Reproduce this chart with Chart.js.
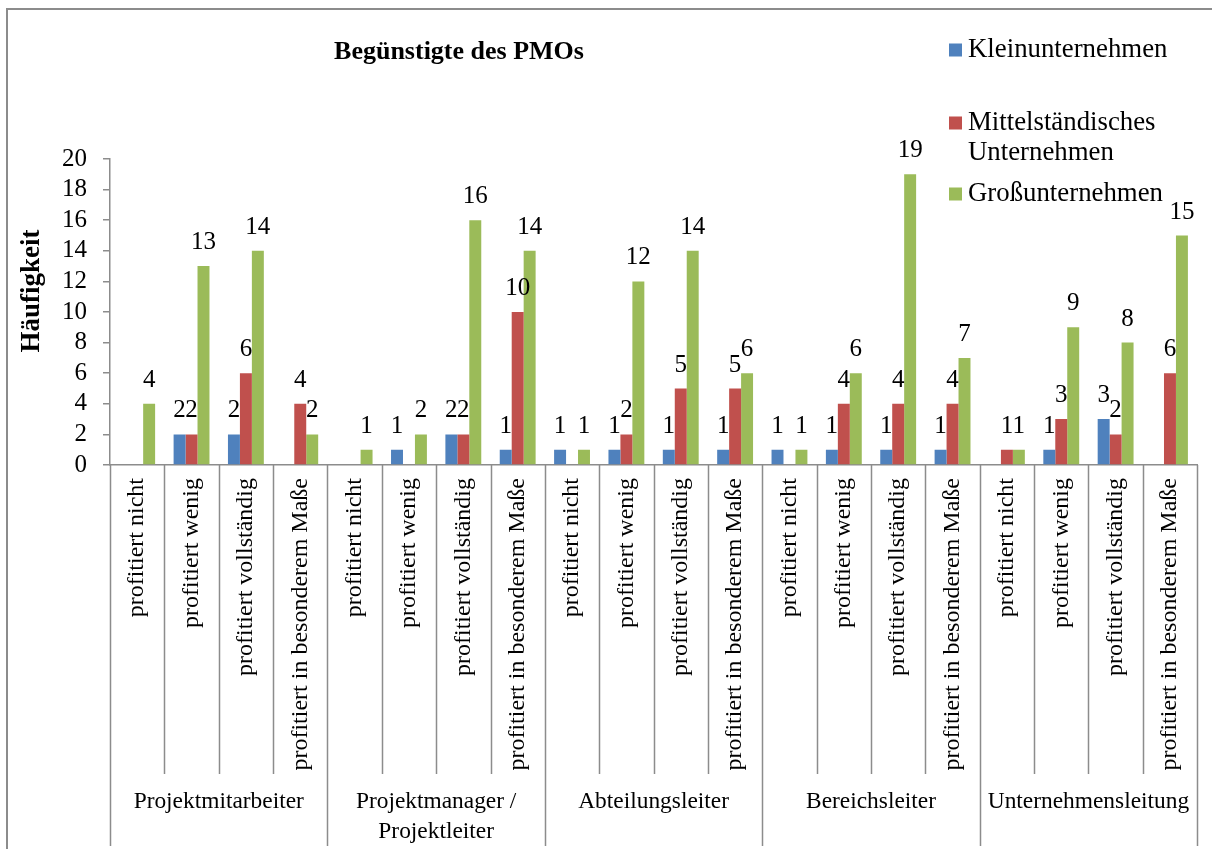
<!DOCTYPE html>
<html>
<head>
<meta charset="utf-8">
<script src="https://cdn.jsdelivr.net/npm/chart.js@4.4.1/dist/chart.umd.min.js"></script>
<style>
  html, body { margin: 0; padding: 0; background: #fff; overflow: hidden; }
  #frame { position: absolute; left: 6px; top: 8px; width: 1300px; height: 1000px;
           border-left: 2px solid #8c8c8c; border-top: 2px solid #8c8c8c; box-sizing: border-box; }
  #c { position: absolute; left: 0; top: 0; }
</style>
</head>
<body>
<div id="frame"></div>
<canvas id="c" width="1212" height="849"></canvas>
<script>
const chartTitle = "Begünstigte des PMOs";
const yAxisTitle = "Häufigkeit";
const subCategories = ["profitiert nicht", "profitiert wenig", "profitiert vollständig", "profitiert in besonderem Maße"];
const groups = [["Projektmitarbeiter"], ["Projektmanager /", "Projektleiter"], ["Abteilungsleiter"], ["Bereichsleiter"], ["Unternehmensleitung"]];
const seriesNames = ["Kleinunternehmen", "Mittelständisches Unternehmen", "Großunternehmen"];
const legendLines = [["Kleinunternehmen"], ["Mittelständisches", "Unternehmen"], ["Großunternehmen"]];
const kleinValues  = [null, 2, 2, null,  null, 1, 2, 1,   1, 1, 1, 1,   1, 1, 1, 1,   null, 1, 3, null];
const mittelValues = [null, 2, 6, 4,     null, null, 2, 10, null, 2, 5, 5, null, 4, 4, 4, 1, 3, 2, 6];
const grossValues  = [4, 13, 14, 2,      1, 2, 16, 14,  1, 12, 14, 6,  1, 6, 19, 7,   1, 9, 8, 15];
const yTicks = [0, 2, 4, 6, 8, 10, 12, 14, 16, 18, 20];
const colors = ["#4F81BD", "#C0504D", "#9BBB59"];

const labels = [];
groups.forEach(() => subCategories.forEach(s => labels.push(s)));

const FONT = "'Liberation Serif', 'Times New Roman', serif";
const LINE = "#8c8c8c";

const overlay = {
  id: 'overlay',
  afterDatasetsDraw(chart) {
    const ctx = chart.ctx;
    ctx.save();
    ctx.font = "25px " + FONT;
    ctx.fillStyle = "#000";
    ctx.textAlign = "center";
    ctx.textBaseline = "alphabetic";
    chart.data.datasets.forEach((ds, di) => {
      const meta = chart.getDatasetMeta(di);
      meta.data.forEach((el, i) => {
        const v = ds.data[i];
        if (v === null || v === undefined) return;
        ctx.fillText(String(v), el.x, el.y - 17);
      });
    });
    ctx.restore();
  },
  afterDraw(chart) {
    const ctx = chart.ctx;
    const x = chart.scales.x;
    const n = labels.length;
    const step = x.getPixelForValue(1) - x.getPixelForValue(0);
    const top = chart.chartArea.bottom;
    ctx.save();
    ctx.strokeStyle = LINE;
    ctx.lineWidth = 1.5;
    for (let i = 0; i <= n; i++) {
      const px = Math.round(x.getPixelForValue(Math.min(i, n - 1)) + (i === n ? step / 2 : -step / 2)) + 0.5;
      ctx.beginPath();
      ctx.moveTo(px, top);
      ctx.lineTo(px, i % 4 === 0 ? 846 : 774);
      ctx.stroke();
    }
    // group labels
    ctx.fillStyle = "#000";
    ctx.font = "23.4px " + FONT;
    ctx.textAlign = "center";
    ctx.textBaseline = "middle";
    groups.forEach((g, gi) => {
      const cx = (x.getPixelForValue(gi * 4) + x.getPixelForValue(gi * 4 + 3)) / 2;
      g.forEach((line, li) => ctx.fillText(line, cx, 802 + li * 30));
    });
    // chart title
    ctx.font = "bold 26px " + FONT;
    ctx.fillText(chartTitle, 459, 52);
    // y axis title
    ctx.save();
    ctx.translate(32, 291);
    ctx.rotate(-Math.PI / 2);
    ctx.font = "bold 27px " + FONT;
    ctx.fillText(yAxisTitle, 0, 0);
    ctx.restore();
    // legend
    const rowsY = [[50], [123, 153], [194]];
    ctx.font = "26.8px " + FONT;
    ctx.textAlign = "left";
    legendLines.forEach((lines, li) => {
      ctx.fillStyle = chart.data.datasets[li].backgroundColor;
      ctx.fillRect(949, rowsY[li][0] - 6.5, 13, 13);
      ctx.fillStyle = "#000";
      lines.forEach((t, k) => ctx.fillText(t, 968, rowsY[li][k]));
    });
    ctx.restore();
  }
};

new Chart(document.getElementById('c'), {
  type: 'bar',
  data: {
    labels: labels,
    datasets: [
      { label: seriesNames[0], data: kleinValues, backgroundColor: colors[0] },
      { label: seriesNames[1], data: mittelValues, backgroundColor: colors[1] },
      { label: seriesNames[2], data: grossValues, backgroundColor: colors[2] }
    ]
  },
  options: {
    responsive: false,
    devicePixelRatio: 1,
    animation: false,
    layout: { padding: { left: 0, top: 159, right: 9, bottom: 0 } },
    datasets: { bar: { barPercentage: 1, categoryPercentage: 0.66 } },
    plugins: { legend: { display: false }, title: { display: false }, tooltip: { enabled: false } },
    scales: {
      x: {
        afterFit: s => { s.height = 384; },
        grid: { display: false, drawTicks: false },
        border: { display: true, color: LINE, width: 1.5 },
        ticks: {
          autoSkip: false, minRotation: 90, maxRotation: 90, padding: 13,
          color: "#000", font: { family: FONT, size: 24 }
        }
      },
      y: {
        afterFit: s => { s.width = 110; },
        min: 0, max: 20,
        afterBuildTicks: s => { s.ticks = yTicks.map(v => ({ value: v })); },
        grid: { drawOnChartArea: false, drawTicks: true, tickLength: 7, color: LINE, lineWidth: 1.5 },
        border: { display: true, color: LINE, width: 1.5 },
        ticks: { autoSkip: false, stepSize: 2, padding: 16, color: "#000", font: { family: FONT, size: 25 } }
      }
    }
  },
  plugins: [overlay]
});
</script>
</body>
</html>
